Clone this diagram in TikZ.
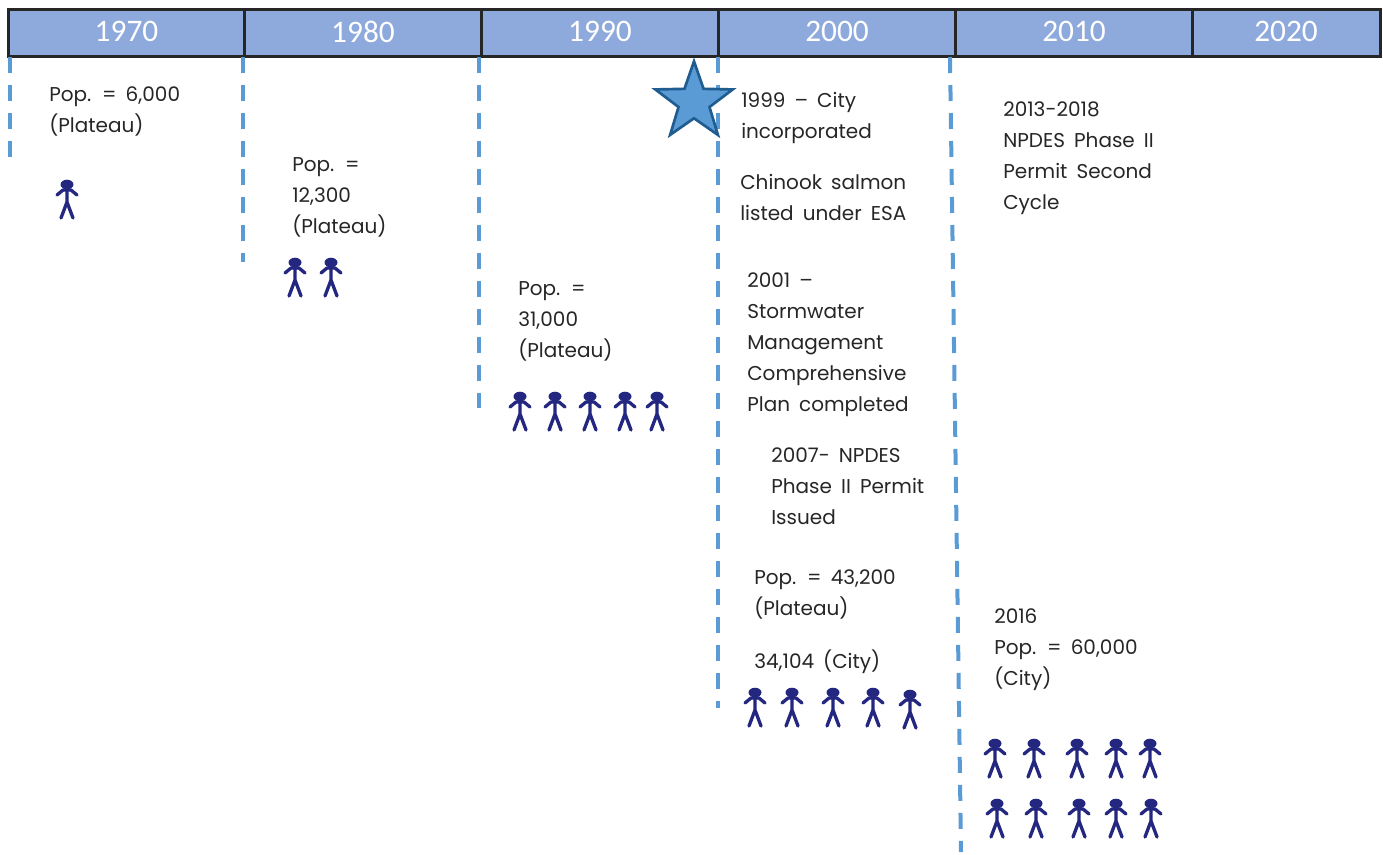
\documentclass[tikz,border=0pt]{standalone}
\usepackage{fontspec}
\setmainfont{Poppins}[WordSpace=1.7]
\newfontfamily\yearfont{Carlito}
\usepackage{tikz}
\usetikzlibrary{shapes.geometric}
\definecolor{headblue}{HTML}{8EA9DB}
\definecolor{dropblue}{HTML}{5B9BD5}
\definecolor{stardark}{HTML}{1F5C8F}
\definecolor{personblue}{HTML}{24277F}
\definecolor{inkgray}{HTML}{262626}
\tikzset{
  yearcell/.style={draw=inkgray, line width=2.25pt, fill=headblue, text=white, minimum height=35.25pt, inner sep=0pt, text depth=2.5pt, font=\yearfont\fontsize{23.5}{28}\selectfont},
  dropline/.style={draw=dropblue, line width=3pt, dash pattern=on 12pt off 9pt},
  note/.style={anchor=north west, inner sep=0pt, align=left, text=inkgray, font=\fontsize{15}{23.25}\selectfont},
  person/.pic={
    \fill[personblue] (0,4.5) ellipse (6.5 and 4.8);
    \draw[personblue, line width=2.5pt, line cap=round, line join=round]
      (0,8) -- (0,24) (-10,15) -- (-4,10) -- (4,10) -- (10,15)
      (-6,38) -- (0,22) -- (6,38);
  }
}
\begin{document}
\begin{tikzpicture}[x=0.75pt, y=-0.75pt]
  \useasboundingbox (0,0) rectangle (1383,854);

  % header
  \node[yearcell, minimum width=177pt] (y1970) at (126.5,33) {1970};
  \node[yearcell, minimum width=177.75pt] (y1980) at (363,33) {1980};
  \node[yearcell, minimum width=177.75pt] (y1990) at (600,33) {1990};
  \node[yearcell, minimum width=177.75pt] (y2000) at (837,33) {2000};
  \node[yearcell, minimum width=177.75pt] (y2010) at (1074,33) {2010};
  \node[yearcell, minimum width=141pt] (y2020) at (1286,33) {2020};

  % drop lines
  \coordinate (top1) at (10,57);    \coordinate (end1) at (10,157);
  \coordinate (top2) at (243,57);   \coordinate (end2) at (243,262);
  \coordinate (top3) at (479,57);   \coordinate (end3) at (479,408);
  \coordinate (top4) at (718,57);   \coordinate (end4) at (718,708);
  \coordinate (top5) at (950,57);   \coordinate (end5) at (961,852);
  \foreach \n in {1,...,5}
    \draw[dropline] (top\n) -- (end\n);

  \node[star, star points=5, star point ratio=2.5, draw=stardark, fill=dropblue, line width=2pt, minimum size=61pt, inner sep=0pt] (city) at (694,102) {};

  % notes
  \node[note] (n1970) at (49,86) {Pop. = 6,000\\(Plateau)};
  \node[note] (n1980) at (292,157) {Pop. =\\12,300\\(Plateau)};
  \node[note] (n1990) at (518,281) {Pop. =\\31,000\\(Plateau)};
  \node[note] (n1999) at (741,92) {1999 – City\\incorporated};
  \node[note] (nesa) at (740,174) {Chinook salmon\\listed under ESA};
  \node[note] (n2001) at (747,273) {2001 –\\Stormwater\\Management\\Comprehensive\\Plan completed};
  \node[note] (n2007) at (771,447) {2007- NPDES\\Phase II Permit\\Issued};
  \node[note] (n2000) at (754,569) {Pop. = 43,200\\(Plateau)};
  \node[note] (ncity) at (754,650) {34,104 (City)};
  \node[note] (n2013) at (1003,101) {2013-2018\\NPDES Phase II\\Permit Second\\Cycle};
  \node[note] (n2016) at (994,608) {2016\\Pop. = 60,000\\(City)};

  % people
  \foreach \px/\py in {67/180, 295/258, 331/258, 520/392, 555/392, 590/392, 625/392, 657/392,
      755/688, 792/688, 833/688, 873/688, 910/690,
      995/739, 1034/739, 1077/739, 1116/739, 1150/739,
      997/799, 1036/799, 1079/799, 1116/799, 1151/799}
    \pic at (\px,\py) {person};
\end{tikzpicture}
\end{document}
